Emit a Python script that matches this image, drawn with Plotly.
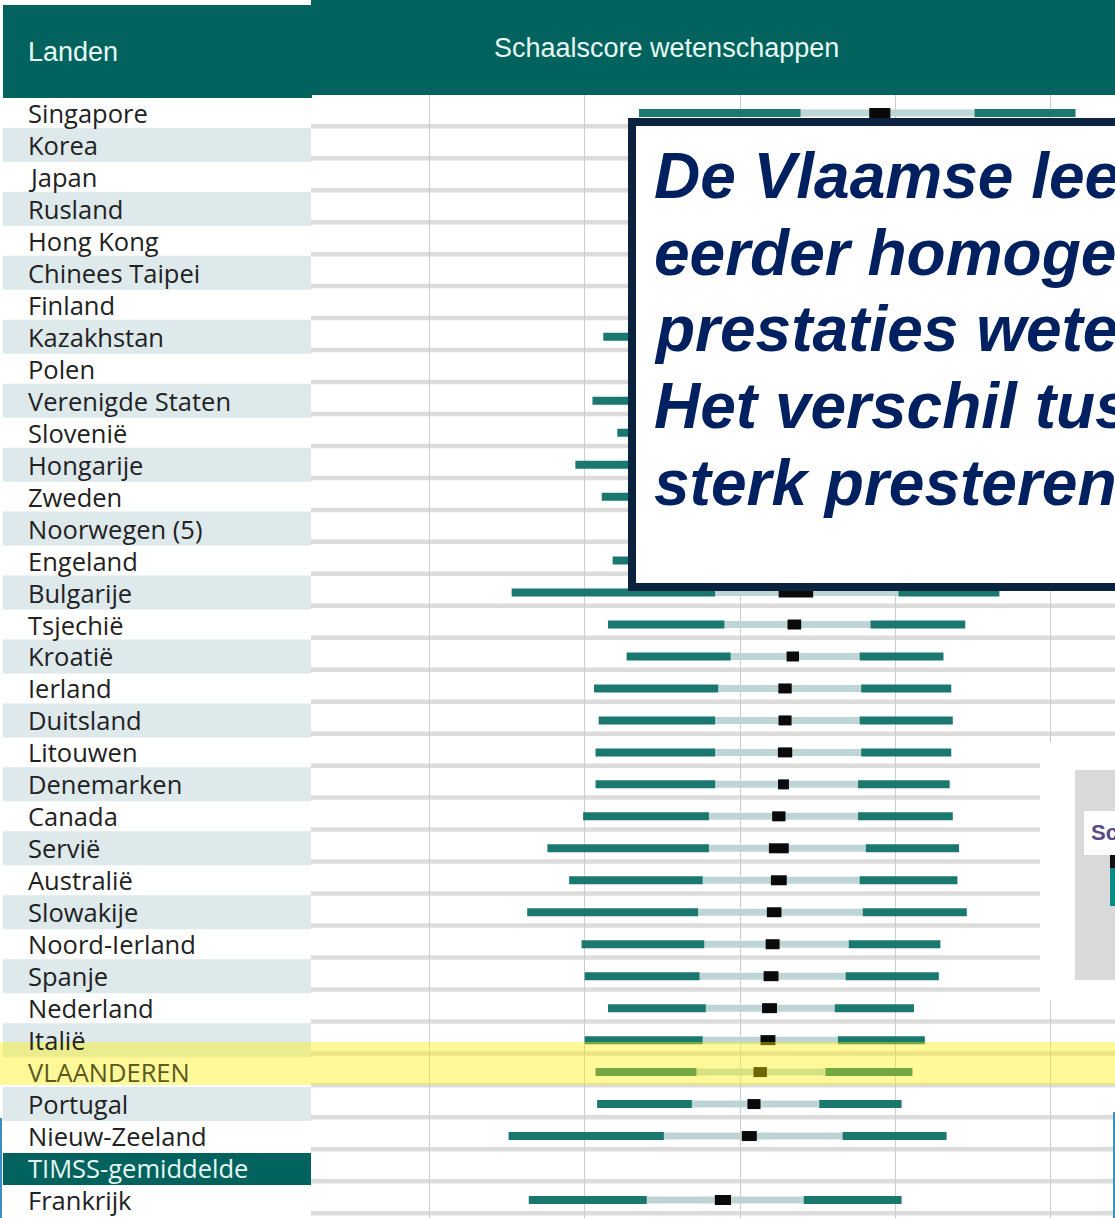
import plotly.graph_objects as go

# TIMSS 2015, 4e leerjaar, wetenschappen: percentielen en gemiddelde (+/- 2 SE)
countries = ["Singapore", "Korea", "Japan", "Rusland", "Hong Kong", "Chinees Taipei",
             "Finland", "Kazakhstan", "Polen", "Verenigde Staten", "Slovenië",
             "Hongarije", "Zweden", "Noorwegen (5)", "Engeland", "Bulgarije",
             "Tsjechië", "Kroatië", "Ierland", "Duitsland", "Litouwen", "Denemarken",
             "Canada", "Servië", "Australië", "Slowakije", "Noord-Ierland", "Spanje",
             "Nederland", "Italië", "VLAANDEREN", "Portugal", "Nieuw-Zeeland",
             "TIMSS-gemiddelde", "Frankrijk"]
p5 = [435, 475, 455, 455, 450, 440, 440, 412, 433, 405, 421, 394, 411, 432, 418,
      353, 415, 427, 406, 409, 407, 407, 399, 376, 390, 363, 398, 400, 415, 400,
      407, 408, 351, None, 364]
p25 = [539, 555, 533, 530, 520, 518, 518, 507, 512, 505, 508, 500, 500, 505, 500,
       484, 490, 494, 486, 484, 484, 484, 480, 480, 476, 473, 477, 474, 478, 476,
       472, 469, 451, None, 440]
mean = [590, 589, 569, 567, 557, 555, 554, 550, 547, 546, 543, 542, 540, 538, 536,
        536, 535, 534, 529, 529, 529, 528, 525, 525, 525, 522, 521, 520, 519, 518,
        513, 509, 506, None, 489]
ci = [6.8, 4.0, 3.6, 6.0, 5.8, 3.6, 4.6, 8.0, 4.8, 4.4, 4.8, 6.6, 7.2, 5.2, 4.8,
      11.1, 4.4, 4.0, 4.3, 4.2, 4.6, 3.5, 4.3, 6.4, 5.1, 4.7, 4.5, 4.8, 4.8, 4.8,
      4.3, 4.2, 4.8, None, 5.2]
p75 = [651, 628, 609, 607, 597, 596, 593, 595, 586, 592, 583, 590, 584, 575, 577,
       602, 584, 577, 578, 577, 578, 576, 576, 581, 577, 579, 570, 568, 561, 563,
       555, 551, 566, None, 541]
p95 = [716, 686, 667, 667, 650, 655, 650, 660, 640, 655, 636, 650, 643, 628, 632,
       667, 645, 631, 636, 637, 636, 635, 637, 641, 640, 646, 629, 628, 612, 619,
       611, 604, 633, None, 604]
scale_ticks = [300, 400, 500, 600, 700]

header_left = "Landen"
header_right = "Schaalscore wetenschappen"
callout = ["De Vlaamse leerlingen", "eerder homogene groep", "prestaties wetenschappen.",
           "Het verschil tussen zwak en", "sterk presterende"]

W, H = 1115, 1218
ROW0, ROWH = 113, 31.97      # pixel centre of first row, row pitch
X500, PXPT = 740, 1.5533     # pixel of score 500, pixels per score point

TEAL = "#02635e"
DARK = "#1a786e"
LIGHT = "#bdd5d5"
SHADE = "#dee9ec"


def xp(px):
    return px / W


def yp(py):
    return 1 - py / H


def rect(x0, y0, x1, y1, **kw):
    return dict(type="rect", xref="paper", yref="paper",
                x0=xp(x0), x1=xp(x1), y0=yp(y1), y1=yp(y0), **kw)


rows = [i for i in range(len(countries)) if p5[i] is not None]

fig = go.Figure()
fig.add_trace(go.Bar(orientation="h", y=rows,
                     base=[p25[i] for i in rows], x=[p75[i] - p25[i] for i in rows],
                     width=7 / ROWH, marker=dict(color=LIGHT, line=dict(width=0))))
fig.add_trace(go.Bar(orientation="h", y=rows,
                     base=[p5[i] for i in rows], x=[p25[i] - p5[i] for i in rows],
                     width=8 / ROWH, marker=dict(color=DARK, line=dict(width=0))))
fig.add_trace(go.Bar(orientation="h", y=rows,
                     base=[p75[i] for i in rows], x=[p95[i] - p75[i] for i in rows],
                     width=8 / ROWH, marker=dict(color=DARK, line=dict(width=0))))
fig.add_trace(go.Bar(orientation="h", y=rows,
                     base=[mean[i] - ci[i] for i in rows], x=[2 * ci[i] for i in rows],
                     width=10 / ROWH, marker=dict(color="#0a0a0a", line=dict(width=0))))

shapes = []
# row separators in the chart area
for i in range(len(countries)):
    shapes.append(dict(type="rect", xref="paper", yref="y", x0=xp(311), x1=1,
                       y0=i + 11 / ROWH, y1=i + 15.5 / ROWH,
                       fillcolor="#dcdcdc", line=dict(width=0), layer="below"))
# label column banding
for i in range(len(countries)):
    if countries[i] == "TIMSS-gemiddelde":
        shapes.append(dict(type="rect", xref="paper", yref="y", x0=xp(3), x1=xp(311),
                           y0=i - 15 / ROWH, y1=i + 17 / ROWH,
                           fillcolor=TEAL, line=dict(width=0), layer="above"))
    elif i % 2 == 1:
        shapes.append(dict(type="rect", xref="paper", yref="y", x0=xp(3), x1=xp(311),
                           y0=i - 17 / ROWH, y1=i + 17 / ROWH,
                           fillcolor=SHADE, line=dict(width=0), layer="below"))
# header
shapes.append(rect(311, 0, W + 5, 95, fillcolor=TEAL, line=dict(width=0), layer="above"))
shapes.append(rect(3, 5, 312, 98, fillcolor=TEAL, line=dict(width=0), layer="above"))
# pasted fragment lower right
shapes.append(rect(1040, 742, W + 5, 1000, fillcolor="white", line=dict(width=0), layer="above"))
shapes.append(rect(1075, 770, W + 5, 980, fillcolor="#d9d9d9", line=dict(width=0), layer="above"))
shapes.append(rect(1084, 811, W + 5, 855, fillcolor="white", line=dict(width=0), layer="above"))
shapes.append(rect(1110, 855, W + 5, 868, fillcolor="#111111", line=dict(width=0), layer="above"))
shapes.append(rect(1110, 868, W + 5, 906, fillcolor="#0a8a84", line=dict(width=0), layer="above"))
# highlight Vlaanderen
shapes.append(rect(0, 1042, W + 5, 1085, fillcolor="rgba(255,240,0,0.4)",
                   line=dict(width=0), layer="above"))
# callout box
shapes.append(rect(632, 122, W + 40, 587, fillcolor="white",
                   line=dict(color="#0c2340", width=8), layer="above"))
# edge lines
shapes.append(rect(0, 1118, 2, H, fillcolor="#3a8fc0", line=dict(width=0), layer="above"))
shapes.append(rect(1113, 1112, W, H, fillcolor="#3a8fc0", line=dict(width=0), layer="above"))

annotations = []
for i, name in enumerate(countries):
    color = "#222222"
    if name == "TIMSS-gemiddelde":
        color = "#e6f7f3"
    elif name == "VLAANDEREN":
        color = "#5a5a1e"
    annotations.append(dict(xref="paper", yref="y", x=xp(26), y=i, text=name,
                            xanchor="left", yanchor="middle", showarrow=False,
                            font=dict(family="Open Sans", size=25.5, color=color)))
annotations.append(dict(xref="paper", yref="paper", x=xp(26), y=yp(52), text=header_left,
                        xanchor="left", yanchor="middle", showarrow=False,
                        font=dict(family="Liberation Sans", size=27, color="#e6f9f4")))
annotations.append(dict(xref="paper", yref="paper", x=xp(666), y=yp(48), text=header_right,
                        xanchor="center", yanchor="middle", showarrow=False,
                        font=dict(family="Liberation Sans", size=27, color="#e6f9f4")))
for k, line in enumerate(callout):
    annotations.append(dict(xref="paper", yref="paper", x=xp(652), y=yp(176 + 76.7 * k),
                            text="<b><i>" + line + "</i></b>",
                            xanchor="left", yanchor="middle", showarrow=False,
                            font=dict(family="Liberation Sans", size=64, color="#002060")))
annotations.append(dict(xref="paper", yref="paper", x=xp(1089), y=yp(832), text="<b>Sc</b>",
                        xanchor="left", yanchor="middle", showarrow=False,
                        font=dict(family="Liberation Sans", size=22, color="#5b4a8a")))

fig.update_layout(
    width=W, height=H,
    margin=dict(l=0, r=0, t=0, b=0),
    paper_bgcolor="white", plot_bgcolor="white",
    barmode="overlay", showlegend=False,
    shapes=shapes, annotations=annotations,
    xaxis=dict(range=[500 + (0 - X500) / PXPT, 500 + (W - X500) / PXPT],
               tickvals=scale_ticks, showticklabels=False, showgrid=True,
               gridcolor="#cccccc", gridwidth=1, zeroline=False, fixedrange=True),
    yaxis=dict(range=[(H - ROW0) / ROWH, -ROW0 / ROWH], showgrid=False,
               showticklabels=False, zeroline=False, fixedrange=True),
)

fig.write_html("out.html", config={"displayModeBar": False},
               post_script="document.body.style.margin='0';")
